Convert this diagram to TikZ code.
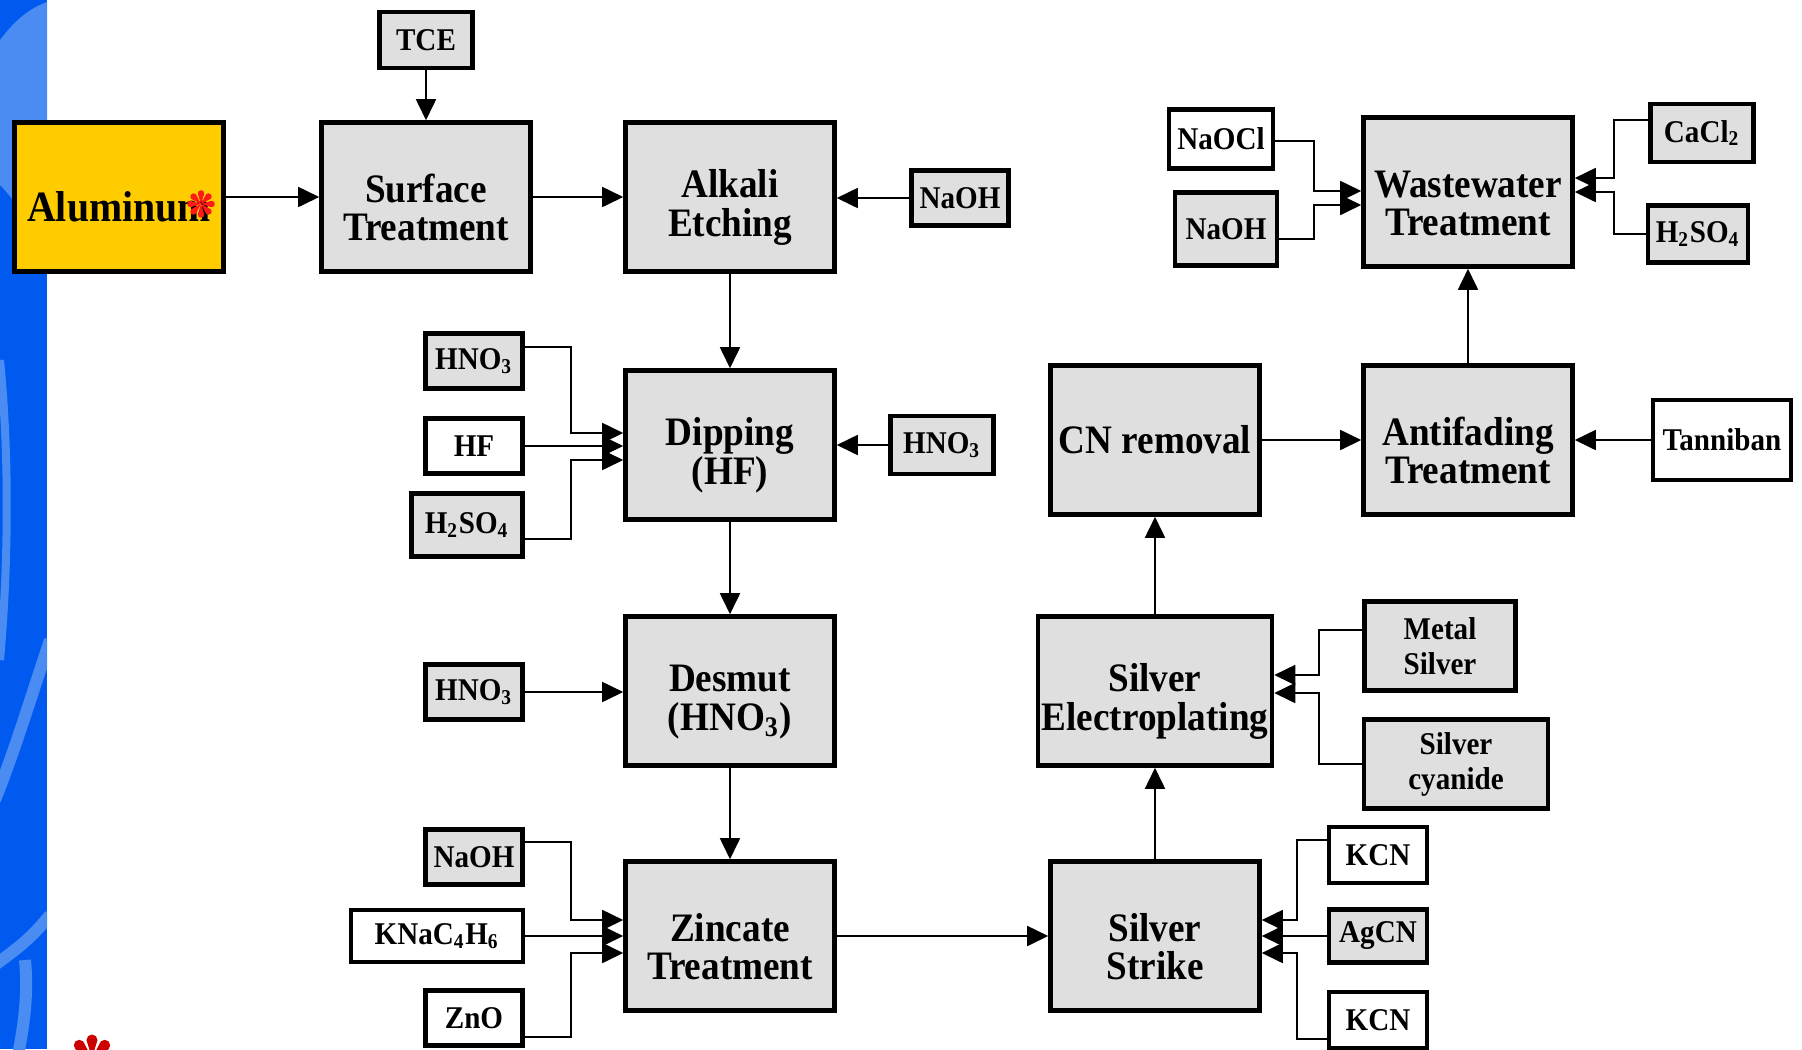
\documentclass[tikz,border=0pt]{standalone}
\usepackage{fontspec}
\setmainfont{Liberation Serif}[FakeStretch=0.92]
\usepackage{tikz}
\usetikzlibrary{arrows.meta, positioning, calc}
\definecolor{boxgray}{HTML}{DFDFDF}
\definecolor{alugold}{HTML}{FFCC00}
\definecolor{stripblue}{HTML}{005AF0}
\definecolor{stripsoft}{HTML}{4A8CF2}
\definecolor{starred}{HTML}{FF1A1A}
\definecolor{stardark}{HTML}{CC0000}
% tall first line, so that the text sits a little below the middle of its box
\newcommand{\toplift}{\rule{0pt}{14pt}}
\tikzset{
    processdiagram/.style={>={Triangle[length=2.1mm, width=2mm]}, line width=0.5pt, x=0.1mm, y=-0.1mm},
    stage/.style={draw, line width=1.3pt, fill=boxgray, minimum width=20.9mm, minimum height=14.9mm,
        align=center, inner sep=1pt, font=\fontsize{11.5}{11}\selectfont\bfseries},
    reagent/.style={draw, line width=1.3pt, fill=white, minimum width=9.7mm, minimum height=5.5mm,
        align=center, inner sep=1pt, font=\fontsize{9}{10}\selectfont\bfseries},
    shaded/.style={fill=boxgray},
    % one petal of the red flower mark, drawn pointing up before rotation
    petal/.style={rotate=#1},
}

\begin{document}
\begin{tikzpicture}[processdiagram]
    \clip (0,0) rectangle (1802,1049);

    % slide strip on the left
    \begin{scope}
        \clip (0,0) rectangle (47,1049);
        \fill[stripblue] (0,0) rectangle (47,1049);
        \fill[stripsoft] (0,40) .. controls (15,20) and (30,8) .. (47,2) -- (47,250) .. controls (25,215) and (10,195) .. (0,185) -- cycle;
        \draw[stripsoft, line width=0.8mm] (0,360) .. controls (9,450) and (9,560) .. (0,660);
        \draw[stripsoft, line width=1.2mm] (50,640) .. controls (30,700) and (15,750) .. (-5,800);
        \draw[stripsoft, line width=1.2mm] (50,915) .. controls (30,940) and (15,950) .. (-5,965);
        \draw[stripsoft, line width=1.2mm] (25,960) .. controls (28,990) and (25,1020) .. (18,1055);
    \end{scope}

    % main process line
    \node[stage, fill=alugold, font=\fontsize{12.3}{11}\selectfont\bfseries] (alu) at (119,197) {\toplift Aluminum};
    \node[stage]               (surf)   at (426,197)  {\toplift Surface\\Treatment};
    \node[stage]               (alk)    at (730,197)  {\toplift Alkali\\Etching};
    \node[stage]               (dip)    at (730,445)  {\toplift Dipping\\(HF)};
    \node[stage]               (des)    at (730,691)  {\toplift Desmut\\(HNO\textsubscript{3})};
    \node[stage]               (zinc)   at (730,936)  {\toplift Zincate\\Treatment};
    \node[stage]               (strike) at (1155,936) {\toplift Silver\\Strike};
    \node[stage, minimum width=23.4mm] (elec) at (1155,691) {\toplift Silver\\Electroplating};
    \node[stage]               (cnr)    at (1155,440) {CN removal};
    \node[stage]               (anti)   at (1468,440) {\toplift Antifading\\Treatment};
    \node[stage]               (waste)  at (1468,192) {\toplift Wastewater\\Treatment};

    % chemicals
    \node[reagent, shaded, minimum width=9.3mm, minimum height=5.6mm] (tce) at (426,40) {TCE};
    \node[reagent, shaded]     (naoha)  at (960,198)  {NaOH};
    \node[reagent, shaded]     (hnoa)   at (474,361)  {HNO\textsubscript{3}};
    \node[reagent]             (hf)     at (474,446)  {HF};
    \node[reagent, shaded, minimum width=11.1mm, minimum height=6.3mm] (hso) at (467,525) {H\textsubscript{2}SO\textsubscript{4}};
    \node[reagent, shaded, minimum width=10.3mm, minimum height=5.8mm] (hnob) at (942,445) {HNO\textsubscript{3}};
    \node[reagent, shaded]     (hnoc)   at (474,692)  {HNO\textsubscript{3}};
    \node[reagent, shaded]     (naohb)  at (474,857)  {NaOH};
    \node[reagent, minimum width=17.2mm, minimum height=5.2mm] (kna) at (437,936) {KNaC\textsubscript{4}H\textsubscript{6}};
    \node[reagent]             (zno)    at (474,1018) {ZnO};
    \node[reagent, minimum width=9.8mm, minimum height=5.6mm] (kcna) at (1378,855) {KCN};
    \node[reagent, shaded, minimum width=9.8mm, minimum height=5.3mm] (agcn) at (1378,936) {AgCN};
    \node[reagent, minimum width=9.8mm, minimum height=5.6mm] (kcnb) at (1378,1020) {KCN};
    \node[reagent, shaded, minimum width=15.1mm, minimum height=8.9mm] (msil) at (1440,646) {Metal\\Silver};
    \node[reagent, shaded, minimum width=18.4mm, minimum height=8.9mm] (scy) at (1456,764) {Silver\\cyanide};
    \node[reagent, minimum width=13.8mm, minimum height=8mm] (tan) at (1722,440) {Tanniban};
    \node[reagent, minimum width=10.4mm, minimum height=5.9mm] (naocl) at (1221,139) {NaOCl};
    \node[reagent, shaded, minimum width=10.2mm, minimum height=7.3mm] (naohc) at (1226,229) {NaOH};
    \node[reagent, shaded, minimum width=10.3mm, minimum height=5.8mm] (cacl) at (1702,133) {CaCl\textsubscript{2}};
    \node[reagent, shaded, minimum width=10mm, minimum height=5.7mm] (hsob) at (1698,234) {H\textsubscript{2}SO\textsubscript{4}};

    % red flower marks
    \begin{scope}[shift={([xshift=8.2mm, yshift=-0.7mm]alu.center)}, x=1.7mm, y=1.7mm]
        \foreach \a in {0,45,...,315}
            \fill[starred, petal=\a] (0,0) -- (-0.19,0.62) arc[start angle=180, end angle=0, radius=0.19] -- cycle;
    \end{scope}
    \begin{scope}[shift={(92,1058)}, x=2.9mm, y=2.9mm]
        \foreach \a in {0,45,...,315}
            \fill[stardark, petal=\a] (0,0) -- (-0.19,0.62) arc[start angle=180, end angle=0, radius=0.19] -- cycle;
    \end{scope}

    % straight feeds
    \draw[->] (tce) -- (surf);
    \draw[->] (alu) -- (surf);
    \draw[->] (surf) -- (alk);
    \draw[->] (naoha) -- (naoha -| alk.east);
    \draw[->] (alk) -- (dip);
    \draw[->] (hf) -- (hf -| dip.west);
    \draw[->] (hnob) -- (hnob -| dip.east);
    \draw[->] (dip) -- (des);
    \draw[->] (hnoc) -- (hnoc -| des.west);
    \draw[->] (des) -- (zinc);
    \draw[->] (kna) -- (kna -| zinc.west);
    \draw[->] (zinc) -- (strike);
    \draw[->] (agcn) -- (agcn -| strike.east);
    \draw[->] (strike) -- (elec);
    \draw[->] (elec) -- (cnr);
    \draw[->] (cnr) -- (anti);
    \draw[->] (tan) -- (tan -| anti.east);
    \draw[->] (anti) -- (waste);

    % bent feeds
    \draw[->] ([yshift=1.4mm]hnoa.east) -| ([xshift=-5.2mm, yshift=1.2mm]dip.west) -- ([yshift=1.2mm]dip.west);
    \draw[->] ([yshift=-1.4mm]hso.east) -| ([xshift=-5.2mm, yshift=-1.5mm]dip.west) -- ([yshift=-1.5mm]dip.west);
    \draw[->] ([yshift=1.5mm]naohb.east) -| ([xshift=-5.2mm, yshift=1.6mm]zinc.west) -- ([yshift=1.6mm]zinc.west);
    \draw[->] ([yshift=-1.9mm]zno.east) -| ([xshift=-5.2mm, yshift=-1.7mm]zinc.west) -- ([yshift=-1.7mm]zinc.west);
    \draw[->] ([yshift=1.5mm]kcna.west) -| ([xshift=3.5mm, yshift=1.6mm]strike.east) -- ([yshift=1.6mm]strike.east);
    \draw[->] ([yshift=-1.9mm]kcnb.west) -| ([xshift=3.5mm, yshift=-1.7mm]strike.east) -- ([yshift=-1.7mm]strike.east);
    \draw[->] ([yshift=1.6mm]msil.west) -| ([xshift=4.5mm, yshift=1.6mm]elec.east) -- ([yshift=1.6mm]elec.east);
    \draw[->] (scy.west) -| ([xshift=4.5mm, yshift=-0.2mm]elec.east) -- ([yshift=-0.2mm]elec.east);
    \draw[->] ([yshift=-0.2mm]naocl.east) -| ([xshift=-4.7mm, yshift=0.1mm]waste.west) -- ([yshift=0.1mm]waste.west);
    \draw[->] ([yshift=-1.0mm]naohc.east) -| ([xshift=-4.7mm, yshift=-1.3mm]waste.west) -- ([yshift=-1.3mm]waste.west);
    \draw[->] ([yshift=1.3mm]cacl.west) -| ([xshift=3.9mm, yshift=1.4mm]waste.east) -- ([yshift=1.4mm]waste.east);
    \draw[->] (hsob.west) -| ([xshift=3.9mm]waste.east) -- (waste.east);
\end{tikzpicture}
\end{document}
